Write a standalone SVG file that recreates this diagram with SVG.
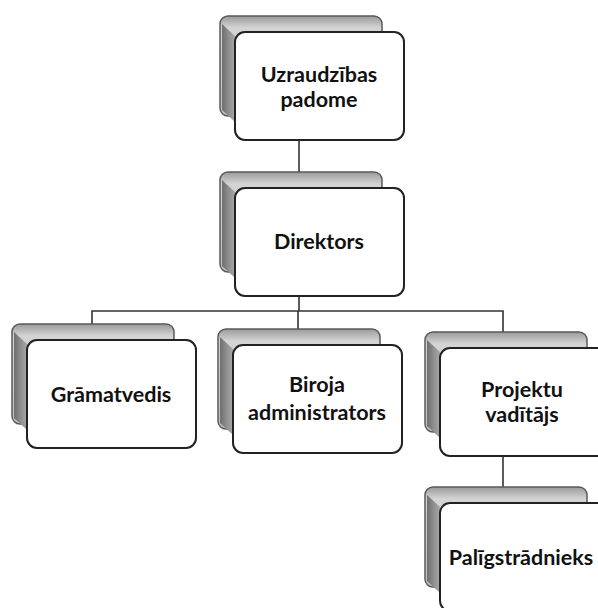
<svg xmlns="http://www.w3.org/2000/svg" width="598" height="608" viewBox="0 0 598 608">
<defs>
<linearGradient id="topface" x1="0" y1="0" x2="0" y2="1">
<stop offset="0" stop-color="#9a9a9a"/>
<stop offset="0.12" stop-color="#d4d4d4"/>
<stop offset="1" stop-color="#c0c0c0"/>
</linearGradient>
<linearGradient id="sideface" x1="0" y1="0" x2="1" y2="0">
<stop offset="0" stop-color="#6e6e6e"/>
<stop offset="0.5" stop-color="#8e8e8e"/>
<stop offset="1" stop-color="#a8a8a8"/>
</linearGradient>
<g id="card">
<rect class="back" x="-15" y="-16" width="162" height="100" rx="8"/>
<path class="side" d="M-13,-8 L0,4 L0,90 L-13,78 Z"/>
<rect class="front" x="0" y="0" width="169" height="108" rx="10"/>
</g>
</defs>
<style>
.back{fill:url(#topface);stroke:#5a5a5a;stroke-width:1.5}
.side{fill:url(#sideface);stroke:none}
.front{fill:#ffffff;stroke:#222222;stroke-width:2}
.lbl{font-family:Lato,"Open Sans","Noto Sans",sans-serif;font-weight:700;font-size:21.5px;fill:#111111;text-anchor:middle}
.conn{stroke:#333333;stroke-width:1.6;fill:none}
</style>
<rect width="598" height="608" fill="#ffffff"/>
<g id="connectors">
<path class="conn" d="M299,138 V173"/>
<path class="conn" d="M299,297 V311"/>
<path class="conn" d="M92,325 V311 H503 V335"/>
<path class="conn" d="M298,311 V330"/>
<path class="conn" d="M503,453 V490"/>
</g>
<g id="node-uzraudzibas" transform="translate(235,32)">
<use href="#card"/>
<text class="lbl" x="84" y="50">Uzraudzības</text>
<text class="lbl" x="84" y="75">padome</text>
</g>
<g id="node-direktors" transform="translate(235,188)">
<use href="#card"/>
<text class="lbl" x="84" y="61">Direktors</text>
</g>
<g id="node-gramatvedis" transform="translate(27,340)">
<use href="#card"/>
<text class="lbl" x="84" y="62">Grāmatvedis</text>
</g>
<g id="node-biroja" transform="translate(233,345)">
<use href="#card"/>
<text class="lbl" x="84" y="47">Biroja</text>
<text class="lbl" x="84" y="75">administrators</text>
</g>
<g id="node-projektu" transform="translate(440,348)">
<use href="#card"/>
<text class="lbl" x="82" y="49">Projektu</text>
<text class="lbl" x="82" y="74">vadītājs</text>
</g>
<g id="node-paligstradnieks" transform="translate(440,503)">
<use href="#card"/>
<text class="lbl" x="81" y="62">Palīgstrādnieks</text>
</g>
</svg>
